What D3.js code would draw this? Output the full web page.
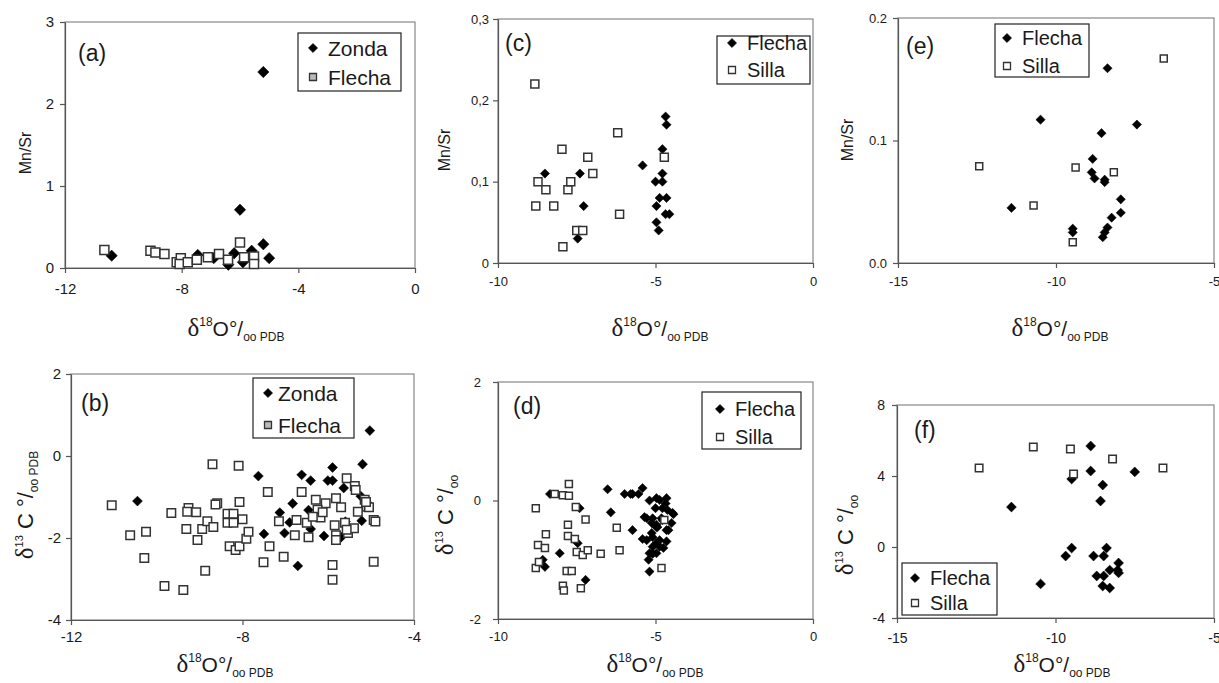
<!DOCTYPE html>
<html>
<head>
<meta charset="utf-8">
<script src="https://cdn.jsdelivr.net/npm/d3@7"></script>
<style>
  body { margin: 0; background: #fff; }
  svg text { font-family: "Liberation Sans", Arial, sans-serif; fill: #1a1a1a; }
  .axis path, .axis line { stroke: #555; stroke-width: 1.2; }
  .axis text { fill: #1a1a1a; }
  .frame { fill: none; stroke: #888; stroke-width: 1.2; }
</style>
</head>
<body>
<svg id="chart" width="1219" height="683"></svg>
<script>

// --> DATA

// (a) Mn/Sr vs d18O
var zondaMnSrA = [[-10.4,0.15],[-7.45,0.16],[-6.9,0.12],[-6.4,0.04],[-6.2,0.18],[-5.9,0.07],
                  [-6.0,0.71],[-5.6,0.21],[-5.2,2.39],[-5.2,0.29],[-5.0,0.12]];
var flechaMnSrA = [[-10.65,0.22],[-9.07,0.21],[-8.9,0.19],[-8.59,0.17],[-8.17,0.07],[-8.03,0.12],
                   [-8.07,0.05],[-7.79,0.07],[-7.48,0.1],[-7.1,0.13],[-6.72,0.17],[-6.41,0.1],
                   [-6.0,0.31],[-5.86,0.13],[-5.52,0.14],[-5.52,0.05]];

// (b) d13C vs d18O
var zondaC13B = [[-10.45,-1.1],[-7.63,-0.49],[-7.5,-1.9],[-7.13,-1.38],[-7.02,-1.88],[-6.83,-1.16],
                 [-6.71,-2.68],[-6.62,-0.46],[-6.46,-1.32],[-6.41,-0.6],[-6.41,-1.78],[-6.01,-0.6],
                 [-5.9,-0.6],[-5.9,-0.28],[-5.7,-1.98],[-5.64,-0.78],[-5.6,-1.6],[-5.24,-0.98],
                 [-5.22,-1.58],[-5.2,-0.2],[-5.03,0.62],[-6.9,-1.62],[-6.1,-1.95]];
var flechaC13B = [[-11.05,-1.2],[-10.62,-1.93],[-10.25,-1.85],[-10.29,-2.49],[-9.66,-1.39],[-9.82,-3.17],
                  [-9.38,-3.27],[-9.26,-1.27],[-9.29,-1.36],[-9.08,-1.37],[-9.31,-1.78],[-8.94,-1.78],
                  [-9.05,-2.05],[-8.82,-1.59],[-8.87,-2.8],[-8.68,-1.73],[-8.7,-0.2],[-8.59,-1.15],
                  [-8.63,-1.18],[-8.35,-1.41],[-8.35,-1.63],[-8.21,-1.41],[-8.21,-1.63],[-8.3,-2.2],
                  [-8.16,-2.29],[-8.07,-2.2],[-7.91,-2.02],[-7.86,-1.85],[-8.07,-1.12],[-8.0,-1.54],
                  [-8.09,-0.24],[-7.51,-2.59],[-7.41,-0.88],[-7.37,-2.2],[-7.15,-1.59],[-7.04,-2.46],
                  [-6.78,-1.93],[-6.74,-1.56],[-6.62,-0.88],[-6.5,-1.63],[-6.46,-1.98],[-6.29,-1.07],
                  [-6.06,-1.15],[-5.82,-1.03],[-5.7,-1.25],[-5.57,-0.54],[-5.38,-0.73],[-5.36,-0.83],
                  [-5.15,-1.07],[-5.1,-1.24],[-5.05,-1.25],[-5.31,-1.36],[-6.25,-1.31],[-6.18,-1.5],
                  [-6.36,-1.48],[-6.13,-1.37],[-5.85,-1.69],[-5.82,-1.93],[-5.82,-2.05],[-5.61,-1.63],
                  [-5.54,-1.88],[-5.4,-1.76],[-5.57,-1.8],[-4.94,-1.56],[-4.9,-1.6],[-4.94,-2.58],
                  [-5.9,-2.66],[-5.9,-3.02],[-5.12,-1.12]];

// (c) Mn/Sr vs d18O
var flechaMnSrC = [[-8.51,0.11],[-7.4,0.11],[-7.28,0.07],[-7.47,0.03],[-5.41,0.12],[-5.0,0.1],
                   [-4.78,0.1],[-4.97,0.07],[-4.97,0.05],[-4.9,0.04],[-4.87,0.08],[-4.65,0.08],
                   [-4.78,0.11],[-4.78,0.14],[-4.68,0.18],[-4.65,0.17],[-4.68,0.06],[-4.56,0.06]];
var sillaMnSrC = [[-8.83,0.22],[-8.73,0.1],[-8.48,0.09],[-8.8,0.07],[-8.23,0.07],[-7.97,0.14],
                  [-7.78,0.09],[-7.69,0.1],[-7.94,0.02],[-7.5,0.04],[-7.31,0.04],[-7.15,0.13],
                  [-6.99,0.11],[-6.2,0.16],[-6.14,0.06],[-4.72,0.13]];

// (d) d13C vs d18O
var flechaC13D = [[-8.35,0.11],[-8.58,-1.0],[-8.51,-1.12],[-8.04,-0.89],[-7.41,-0.13],[-7.47,-0.72],
                  [-7.22,-1.34],[-6.52,0.19],[-6.42,-0.2],[-5.98,0.11],[-5.73,-0.5],[-5.73,0.11],
                  [-5.41,0.21],[-5.22,-1.0],[-5.19,-1.2],[-5.54,0.11],[-5.79,0.11],[-5.19,0.0],
                  [-5.0,-0.13],[-4.97,0.04],[-4.65,0.04],[-4.68,-0.05],[-4.87,0.01],[-4.78,-0.13],
                  [-4.46,-0.21],[-4.43,-0.23],[-5.09,-0.3],[-5.28,-0.3],[-5.35,-0.28],[-4.97,-0.41],
                  [-4.81,-0.3],[-4.65,-0.5],[-4.59,-0.5],[-5.09,-0.62],[-5.28,-0.67],[-4.87,-0.67],
                  [-4.65,-0.69],[-5.41,-0.65],[-5.09,-0.78],[-4.87,-0.78],[-4.75,-0.8],[-5.19,-0.89],
                  [-4.97,-0.89],[-5.09,-0.9],[-4.97,-0.45],[-4.78,-0.33],[-4.62,-0.16],[-4.49,-0.38],
                  [-5.12,-0.55],[-5.12,-0.38],[-4.94,-0.45],[-4.97,-0.72]];
var sillaC13D = [[-8.8,-0.13],[-8.48,-0.57],[-8.73,-0.75],[-8.51,-0.8],[-8.8,-1.14],[-8.7,-1.04],
                 [-8.2,0.11],[-7.94,0.09],[-7.75,0.28],[-7.75,0.08],[-7.78,-0.41],[-7.78,-0.6],
                 [-7.53,-0.11],[-7.56,-0.65],[-7.5,-0.87],[-7.31,-0.92],[-7.15,-0.84],[-7.22,-0.32],
                 [-7.82,-1.19],[-7.66,-1.19],[-7.94,-1.44],[-7.91,-1.52],[-7.37,-1.48],[-6.74,-0.9],
                 [-6.23,-0.46],[-6.14,-0.84],[-4.72,-0.33],[-4.81,-1.14]];

// (e) Mn/Sr vs d18O
var flechaMnSrE = [[-11.41,0.045],[-10.49,0.117],[-9.47,0.028],[-9.47,0.025],[-8.84,0.085],[-8.87,0.074],
                   [-8.78,0.069],[-8.56,0.106],[-8.46,0.068],[-8.46,0.066],[-8.37,0.159],[-7.44,0.113],
                   [-7.95,0.052],[-7.95,0.041],[-8.24,0.037],[-8.37,0.029],[-8.46,0.025],[-8.52,0.021]];
var sillaMnSrE = [[-12.43,0.079],[-10.71,0.047],[-9.38,0.078],[-9.47,0.017],[-8.17,0.074],[-6.59,0.167]];

// (f) d13C vs d18O
var flechaC13F = [[-8.89,5.69],[-8.89,4.28],[-9.49,3.83],[-8.51,3.49],[-8.58,2.59],[-7.5,4.23],
                  [-11.39,2.25],[-10.47,-2.08],[-9.49,-0.06],[-9.68,-0.51],[-8.8,-0.51],[-8.48,-0.51],
                  [-8.39,-0.06],[-8.7,-1.63],[-8.48,-1.63],[-8.29,-1.3],[-8.51,-2.2],[-8.29,-2.31],
                  [-8.01,-0.9],[-8.01,-1.46],[-8.04,-1.3]];
var sillaC13F = [[-12.41,4.45],[-10.7,5.63],[-9.53,5.52],[-9.43,4.11],[-8.2,4.96],[-6.61,4.45]];

// Tick values and labels
var xTicksA = [-12, -8, -4, 0],   yTicksA = [0, 1, 2, 3],          yLabelsA = ["0", "1", "2", "3"];
var xTicksB = [-12, -8, -4],      yTicksB = [-4, -2, 0, 2],        yLabelsB = ["-4", "-2", "0", "2"];
var xTicksC = [-10, -5, 0],       yTicksC = [0, 0.1, 0.2, 0.3],    yLabelsC = ["0", "0,1", "0,2", "0,3"];
var xTicksD = [-10, -5, 0],       yTicksD = [-2, 0, 2],            yLabelsD = ["-2", "0", "2"];
var xTicksE = [-15, -10, -5],     yTicksE = [0, 0.1, 0.2],         yLabelsE = ["0.0", "0.1", "0.2"];
var xTicksF = [-15, -10, -5],     yTicksF = [-4, 0, 4, 8],         yLabelsF = ["-4", "0", "4", "8"];

// --> LAYOUT
var svg = d3.select("#chart");

var diamond = { shape: "diamond", fill: "#000", stroke: "#000" };
var openSq = { shape: "square", fill: "#fff", stroke: "#333" };

var panels = [
  { tag: "(a)", box: {l: 65, t: 22, r: 415, b: 268}, xd: [-12, 0], yd: [0, 3],
    xt: xTicksA, yt: yTicksA, yl: yLabelsA, fs: 15, xpad: 10, ypad: 6,
    series: [ {name: "Zonda", data: zondaMnSrA, m: diamond, size: 8},
              {name: "Flecha", data: flechaMnSrA, m: openSq, size: 9, legendFill: "#bbb"} ],
    legend: {x: 298, y: 33, w: 103, h: 58, mx: 313, tx: 328, rows: [48, 77], fs: 21},
    label: {x: 78, y: 61}, ylab: "Mn/Sr", ylx: 31, yly: 153, xlx: 236, xly: 336 },
  { tag: "(b)", box: {l: 71, t: 374, r: 414, b: 620}, xd: [-12, -4], yd: [-4, 2],
    xt: xTicksB, yt: yTicksB, yl: yLabelsB, fs: 15, xpad: 6, ypad: 5,
    series: [ {name: "Zonda", data: zondaC13B, m: diamond, size: 7},
              {name: "Flecha", data: flechaC13B, m: openSq, size: 8.5, legendFill: "#bbb"} ],
    legend: {x: 253, y: 378, w: 101, h: 60, mx: 268, tx: 278, rows: [393, 425], fs: 21},
    label: {x: 81, y: 411}, ylab: "C13PDB", ylx: 33, yly: 505, xlx: 225, xly: 672 },
  { tag: "(c)", box: {l: 498, t: 19, r: 813, b: 263}, xd: [-10, 0], yd: [0, 0.3],
    xt: xTicksC, yt: yTicksC, yl: yLabelsC, fs: 13, xpad: 9, ypad: 4,
    series: [ {name: "Flecha", data: flechaMnSrC, m: diamond, size: 6.5},
              {name: "Silla", data: sillaMnSrC, m: openSq, size: 8} ],
    legend: {x: 717, y: 36, w: 93, h: 48, mx: 732, tx: 747, rows: [43, 70], fs: 20},
    label: {x: 505, y: 51}, ylab: "Mn/Sr", ylx: 450, yly: 150, xlx: 660, xly: 336 },
  { tag: "(d)", box: {l: 498, t: 382, r: 813, b: 619}, xd: [-10, 0], yd: [-2, 2],
    xt: xTicksD, yt: yTicksD, yl: yLabelsD, fs: 13, xpad: 8, ypad: 12,
    series: [ {name: "Flecha", data: flechaC13D, m: diamond, size: 6.5},
              {name: "Silla", data: sillaC13D, m: openSq, size: 7} ],
    legend: {x: 702, y: 392, w: 99, h: 57, mx: 720, tx: 735, rows: [409, 437], fs: 20},
    label: {x: 513, y: 414}, ylab: "C13", ylx: 453, yly: 515, xlx: 655, xly: 672 },
  { tag: "(e)", box: {l: 898, t: 18, r: 1214, b: 263}, xd: [-15, -5], yd: [0, 0.2],
    xt: xTicksE, yt: yTicksE, yl: yLabelsE, fs: 13, xpad: 9, ypad: 6,
    series: [ {name: "Flecha", data: flechaMnSrE, m: diamond, size: 6.5},
              {name: "Silla", data: sillaMnSrE, m: openSq, size: 7} ],
    legend: {x: 995, y: 24, w: 94, h: 53, mx: 1007, tx: 1022, rows: [38, 66], fs: 20},
    label: {x: 906, y: 54}, ylab: "Mn/Sr", ylx: 853, yly: 140, xlx: 1060, xly: 336 },
  { tag: "(f)", box: {l: 897, t: 405, r: 1214, b: 618}, xd: [-15, -5], yd: [-4, 8],
    xt: xTicksF, yt: yTicksF, yl: yLabelsF, fs: 14, xpad: 10, ypad: 7,
    series: [ {name: "Flecha", data: flechaC13F, m: diamond, size: 7},
              {name: "Silla", data: sillaC13F, m: openSq, size: 7.5} ],
    legend: {x: 902, y: 563, w: 95, h: 52, mx: 915, tx: 930, rows: [578, 603], fs: 20},
    label: {x: 914, y: 438}, ylab: "C13", ylx: 853, yly: 535, xlx: 1062, xly: 672 }
];

function hyphen(d) { return d < 0 ? "-" + Math.abs(d) : String(d); }

function markerPath(m, size) {
  return d3.symbol().type(d3.symbolSquare).size(size * size)();
}

function markerTransform(m, px, py) {
  return "translate(" + px + "," + py + ")" + (m.shape == "diamond" ? " rotate(45)" : "");
}

function drawPanel(p) {
  var g = svg.append("g");
  var x = d3.scaleLinear().domain(p.xd).range([p.box.l, p.box.r]);
  var y = d3.scaleLinear().domain(p.yd).range([p.box.b, p.box.t]);

  // plot frame
  g.append("rect")
    .attr("class", "frame")
    .attr("x", p.box.l).attr("y", p.box.t)
    .attr("width", p.box.r - p.box.l).attr("height", p.box.b - p.box.t);

  // axes
  g.append("g")
    .attr("class", "axis")
    .attr("transform", "translate(0," + p.box.b + ")")
    .call(d3.axisBottom(x).tickValues(p.xt).tickFormat(hyphen).tickSize(5).tickSizeOuter(0).tickPadding(p.xpad));
  g.append("g")
    .attr("class", "axis")
    .attr("transform", "translate(" + p.box.l + ",0)")
    .call(d3.axisLeft(y).tickValues(p.yt).tickFormat(function(d, i) { return p.yl[i]; })
      .tickSize(5).tickSizeOuter(0).tickPadding(p.ypad));
  g.selectAll(".axis text")
    .style("font-family", "'Liberation Sans', Arial, sans-serif")
    .style("font-size", p.fs + "px");

  // points
  p.series.forEach(function(s) {
    g.selectAll(null)
      .data(s.data)
      .enter().append("path")
      .attr("d", markerPath(s.m, s.size))
      .attr("transform", function(d) { return markerTransform(s.m, x(d[0]), y(d[1])); })
      .attr("fill", s.m.fill)
      .attr("stroke", s.m.stroke)
      .attr("stroke-width", s.m.shape == "square" ? 1.5 : 0.5);
  });

  // legend
  var L = p.legend;
  g.append("rect")
    .attr("x", L.x).attr("y", L.y).attr("width", L.w).attr("height", L.h)
    .attr("fill", "#fff").attr("stroke", "#222").attr("stroke-width", 1.2);
  p.series.forEach(function(s, i) {
    var sz = s.m.shape == "diamond" ? 6.5 : 7;
    g.append("path")
      .attr("d", markerPath(s.m, sz))
      .attr("transform", markerTransform(s.m, L.mx, L.rows[i]))
      .attr("fill", s.legendFill || s.m.fill)
      .attr("stroke", s.m.stroke)
      .attr("stroke-width", s.m.shape == "square" ? 1.3 : 0.5);
    g.append("text")
      .attr("x", L.tx).attr("y", L.rows[i])
      .attr("dy", "0.36em")
      .style("font-size", L.fs + "px")
      .text(s.name);
  });

  // panel tag
  g.append("text")
    .attr("x", p.label.x).attr("y", p.label.y)
    .style("font-size", "23px")
    .text(p.tag);

  // x axis title: d18O o/oo PDB
  var xt = g.append("text")
    .attr("x", p.xlx).attr("y", p.xly)
    .attr("text-anchor", "middle");
  xt.append("tspan").style("font-family", "'Liberation Serif', serif").style("font-size", "25px").text("δ");
  xt.append("tspan").style("font-size", "12px").attr("dy", -10).text("18");
  xt.append("tspan").style("font-size", "21px").attr("dy", 10).text("O°/");
  xt.append("tspan").style("font-size", "12px").attr("dy", 5).text("oo PDB");

  // y axis title
  var yt = g.append("text")
    .attr("transform", "translate(" + p.ylx + "," + p.yly + ") rotate(-90)")
    .attr("text-anchor", "middle");
  if (p.ylab == "Mn/Sr") {
    yt.style("font-size", "16px").text("Mn/Sr");
  } else {
    yt.append("tspan").style("font-family", "'Liberation Serif', serif").style("font-size", "25px").text("δ");
    yt.append("tspan").style("font-size", "11px").attr("dy", -10).text("13");
    yt.append("tspan").style("font-size", "22px").attr("dy", 10).text(" C °/");
    yt.append("tspan").style("font-size", "12px").attr("dy", 5).text(p.ylab == "C13PDB" ? "oo PDB" : "oo");
  }
}

panels.forEach(drawPanel);

</script>
</body>
</html>
